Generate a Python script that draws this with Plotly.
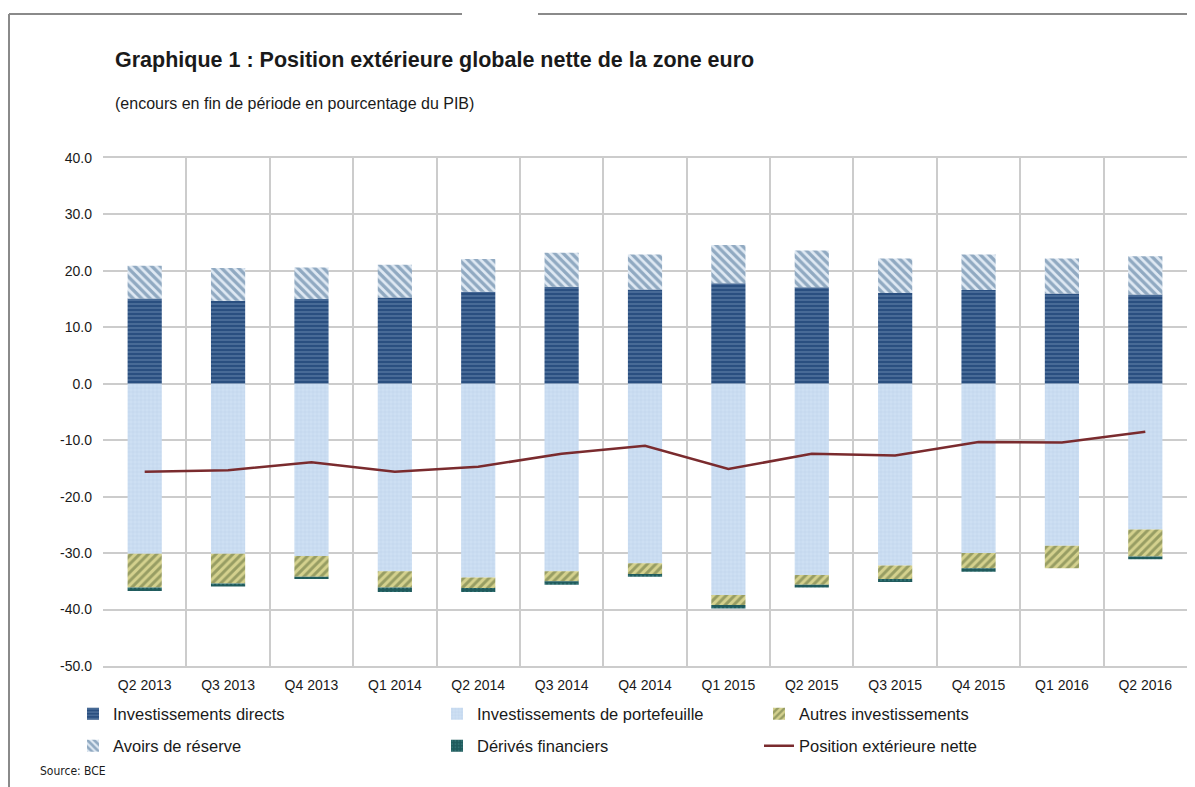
import plotly.graph_objects as go

quarters = ["Q2 2013", "Q3 2013", "Q4 2013", "Q1 2014", "Q2 2014", "Q3 2014", "Q4 2014",
            "Q1 2015", "Q2 2015", "Q3 2015", "Q4 2015", "Q1 2016", "Q2 2016"]

directs = [15.1, 14.7, 15.0, 15.3, 16.3, 17.2, 16.7, 17.8, 17.1, 16.1, 16.6, 16.0, 15.8]
reserves = [5.8, 5.8, 5.6, 5.8, 5.8, 6.0, 6.2, 6.8, 6.5, 6.1, 6.3, 6.2, 6.8]
portfolio = [-30.1, -30.1, -30.5, -33.2, -34.3, -33.2, -31.8, -37.4, -33.9, -32.2, -30.0, -28.7, -25.8]
autres = [-6.0, -5.3, -3.7, -2.9, -1.9, -1.8, -1.9, -1.8, -1.7, -2.4, -2.7, -4.0, -4.8]
derives = [-0.6, -0.5, -0.4, -0.8, -0.7, -0.6, -0.5, -0.6, -0.5, -0.5, -0.6, 0.0, -0.5]
net_position = [-15.6, -15.3, -13.9, -15.6, -14.7, -12.4, -11.0, -15.1, -12.4, -12.7, -10.3, -10.4, -8.5]

y_tickvals = [40, 30, 20, 10, 0, -10, -20, -30, -40, -50]
y_ticktext = ["40.0", "30.0", "20.0", "10.0", "0.0", "-10.0", "-20.0", "-30.0", "-40.0", "-50.0"]

OFF = 8  # page body margin
W, H = 1195 - OFF, 787 - OFF
ML, MR, MT, MB = 95, 8, 150, 121
PW, PH = W - ML - MR, H - MT - MB


def px(x):
    return (x - OFF - ML) / PW


def py(y):
    return (H - MB - (y - OFF)) / PH


FONT = "Liberation Sans, Arial, sans-serif"

fig = go.Figure()

fig.add_trace(go.Bar(
    x=quarters, y=directs, name="Investissements directs", legend="legend",
    marker=dict(color="#2d5486", line=dict(width=0),
                pattern=dict(shape="-", fgcolor="#8fabcc", bgcolor="#2a4f80", size=4, solidity=0.3)),
))
fig.add_trace(go.Bar(
    x=quarters, y=portfolio, name="Investissements de portefeuille", legend="legend2",
    marker=dict(color="#cbdcf1", line=dict(width=0),
                pattern=dict(shape="+", fgcolor="#a7c1e2", bgcolor="#cddff3", size=4, solidity=0.2)),
))
fig.add_trace(go.Bar(
    x=quarters, y=autres, name="Autres investissements", legend="legend3",
    marker=dict(color="#b4b77a", line=dict(width=0),
                pattern=dict(shape="/", fgcolor="#5a6a38", bgcolor="#d4d18e", size=6, solidity=0.5)),
))
fig.add_trace(go.Bar(
    x=quarters, y=reserves, name="Avoirs de réserve", legend="legend4",
    marker=dict(color="#8eaac4", line=dict(width=0),
                pattern=dict(shape="\\", fgcolor="#41698f", bgcolor="#dfe9f3", size=6, solidity=0.55)),
))
fig.add_trace(go.Bar(
    x=quarters, y=derives, name="Dérivés financiers", legend="legend5",
    marker=dict(color="#215e60", line=dict(width=0),
                pattern=dict(shape=".", fgcolor="#3f8686", bgcolor="#1f5a5c", size=4, solidity=0.3)),
))
fig.add_trace(go.Scatter(
    x=quarters, y=net_position, name="Position extérieure nette", legend="legend6",
    mode="lines", line=dict(color="#7a2b2e", width=2.5),
))

leg_font = dict(family=FONT, size=16.5, color="#1a1a1a")
col_x = [px(73), px(437), px(759)]
row_y = [py(714), py(746)]


def legend_at(x, y):
    return dict(x=x, y=y, xanchor="left", yanchor="middle", font=leg_font,
                bgcolor="rgba(0,0,0,0)", borderwidth=0)


fig.update_layout(
    width=W, height=H,
    margin=dict(l=ML, r=MR, t=MT, b=MB, autoexpand=False),
    paper_bgcolor="white", plot_bgcolor="white",
    barmode="relative", bargap=0.59,
    showlegend=True,
    font=dict(family=FONT, size=14, color="#1a1a1a"),
    legend=legend_at(col_x[0], row_y[0]),
    legend2=legend_at(col_x[1], row_y[0]),
    legend3=legend_at(col_x[2], row_y[0]),
    legend4=legend_at(col_x[0], row_y[1]),
    legend5=legend_at(col_x[1], row_y[1]),
    legend6=legend_at(col_x[2], row_y[1]),
    xaxis=dict(
        type="category", tickson="boundaries", showgrid=True, gridcolor="#cccccc", gridwidth=1.5,
        ticks="", showline=True, linecolor="#cccccc", linewidth=1.5, mirror=True,
        ticklabelstandoff=5,
        tickfont=dict(family=FONT, size=14, color="#1a1a1a"), zeroline=False,
    ),
    yaxis=dict(
        range=[-50, 40], tickvals=y_tickvals, ticktext=y_ticktext,
        showgrid=True, gridcolor="#cccccc", gridwidth=1.5, zeroline=False,
        showline=False, ticks="", ticklabelstandoff=10,
        tickfont=dict(family=FONT, size=14, color="#1a1a1a"),
    ),
    annotations=[
        dict(text="<b>Graphique 1 : Position extérieure globale nette de la zone euro</b>",
             xref="paper", yref="paper", x=px(113), y=py(60), xanchor="left", yanchor="middle",
             showarrow=False, font=dict(family=FONT, size=21.5, color="#1a1a1a")),
        dict(text="(encours en fin de période en pourcentage du PIB)",
             xref="paper", yref="paper", x=px(113), y=py(104), xanchor="left", yanchor="middle",
             showarrow=False, font=dict(family=FONT, size=16, color="#1a1a1a")),
        dict(text="Source: BCE",
             xref="paper", yref="paper", x=px(38), y=py(771), xanchor="left", yanchor="middle",
             showarrow=False, font=dict(family="Liberation Sans Narrow, DejaVu Sans Condensed, sans-serif",
                                        size=12, color="#1a1a1a")),
    ],
    shapes=[
        dict(type="line", xref="paper", yref="paper", x0=px(9), x1=px(462), y0=py(14), y1=py(14),
             line=dict(color="#8a8a8a", width=2)),
        dict(type="line", xref="paper", yref="paper", x0=px(538), x1=px(1195), y0=py(14), y1=py(14),
             line=dict(color="#8a8a8a", width=2)),
        dict(type="line", xref="paper", yref="paper", x0=px(9), x1=px(9), y0=py(14), y1=py(787),
             line=dict(color="#8a8a8a", width=2)),
    ],
)

fig.write_html("out.html")
